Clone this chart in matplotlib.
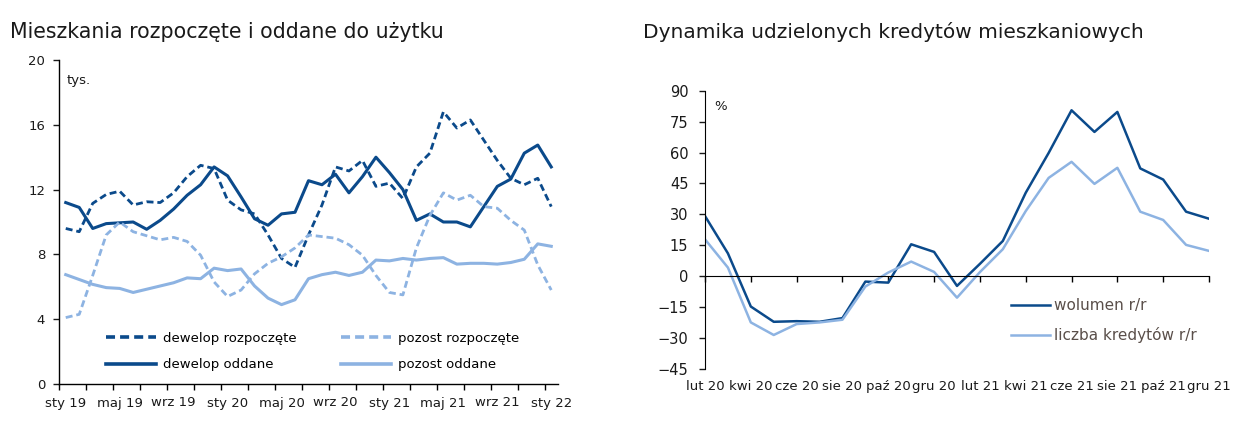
import matplotlib
matplotlib.use("Agg")
import matplotlib.pyplot as plt
import numpy as np

# Lewy wykres: tys. mieszkań, sty 19 - sty 22
miesiace_lewy = ["sty 19", "lut 19", "mar 19", "kwi 19", "maj 19", "cze 19", "lip 19", "sie 19",
                 "wrz 19", "paź 19", "lis 19", "gru 19", "sty 20", "lut 20", "mar 20", "kwi 20",
                 "maj 20", "cze 20", "lip 20", "sie 20", "wrz 20", "paź 20", "lis 20", "gru 20",
                 "sty 21", "lut 21", "mar 21", "kwi 21", "maj 21", "cze 21", "lip 21", "sie 21",
                 "wrz 21", "paź 21", "lis 21", "gru 21", "sty 22"]
dewelop_rozpoczete = [9.6, 9.4, 11.15, 11.7, 11.9, 11.05, 11.25, 11.2, 11.8, 12.8, 13.5, 13.3,
                      11.35, 10.75, 10.5, 9.2, 7.75, 7.2, 9.2, 11.05, 13.4, 13.15, 13.8, 12.2,
                      12.4, 11.45, 13.4, 14.25, 16.8, 15.8, 16.3, 15.05, 13.8, 12.7, 12.3, 12.7, 10.95]
dewelop_oddane = [11.2, 10.9, 9.6, 9.9, 9.95, 10.0, 9.55, 10.1, 10.8, 11.65, 12.3, 13.4,
                  12.85, 11.55, 10.2, 9.8, 10.5, 10.6, 12.55, 12.3, 12.95, 11.8, 12.8, 14.0,
                  13.05, 12.0, 10.1, 10.5, 10.0, 10.0, 9.7, 10.95, 12.2, 12.65, 14.25, 14.75, 13.4]
pozost_rozpoczete = [4.1, 4.3, 6.7, 9.2, 10.0, 9.4, 9.15, 8.9, 9.05, 8.8, 7.95, 6.3,
                     5.4, 5.8, 6.8, 7.45, 7.85, 8.4, 9.2, 9.1, 9.0, 8.6, 7.95, 6.7,
                     5.65, 5.5, 8.4, 10.4, 11.8, 11.35, 11.65, 10.95, 10.85, 10.1, 9.5, 7.35, 5.8]
pozost_oddane = [6.75, 6.45, 6.15, 5.95, 5.9, 5.65, 5.85, 6.05, 6.25, 6.55, 6.5, 7.15,
                 7.0, 7.1, 6.05, 5.3, 4.9, 5.2, 6.5, 6.75, 6.9, 6.7, 6.9, 7.65,
                 7.6, 7.75, 7.65, 7.75, 7.8, 7.4, 7.45, 7.45, 7.4, 7.5, 7.7, 8.65, 8.5]

# Prawy wykres: dynamika r/r w %, lut 20 - gru 21
miesiace_prawy = ["lut 20", "mar 20", "kwi 20", "maj 20", "cze 20", "lip 20", "sie 20", "wrz 20",
                  "paź 20", "lis 20", "gru 20", "sty 21", "lut 21", "mar 21", "kwi 21", "maj 21",
                  "cze 21", "lip 21", "sie 21", "wrz 21", "paź 21", "lis 21", "gru 21"]
wolumen = [29.2, 11.1, -14.7, -22.1, -21.8, -22.1, -20.3, -2.6, -3.1, 15.5, 11.8, -4.7,
           6.0, 17.1, 40.5, 59.8, 80.5, 70.0, 79.7, 52.3, 46.9, 31.3, 27.9]
liczba = [17.9, 4.2, -22.4, -28.5, -23.2, -22.4, -21.1, -5.0, 1.8, 7.1, 2.1, -10.4,
          2.0, 13.1, 31.6, 47.7, 55.5, 44.8, 52.6, 31.3, 27.3, 15.2, 12.3]

CIEMNY = "#0b4a8b"
JASNY = "#8db3e2"
TEKST = "#1a1a1a"

plt.rcParams["font.family"] = ["DejaVu Sans"]

fig = plt.figure(figsize=(12.48, 4.26), dpi=100)

# ---------- lewy wykres ----------
ax1 = fig.add_axes([59 / 1248, 42 / 426, 499 / 1248, 324 / 426])
x1 = np.arange(len(miesiace_lewy))
ax1.plot(x1, dewelop_rozpoczete, color=CIEMNY, lw=2.0, dashes=(2.5, 1.4), label="dewelop rozpoczęte")
ax1.plot(x1, dewelop_oddane, color=CIEMNY, lw=2.2, label="dewelop oddane")
ax1.plot(x1, pozost_rozpoczete, color=JASNY, lw=2.0, dashes=(2.5, 1.4), label="pozost rozpoczęte")
ax1.plot(x1, pozost_oddane, color=JASNY, lw=2.2, label="pozost oddane")

ax1.set_xlim(-0.5, len(miesiace_lewy) - 0.5)
ax1.set_ylim(0, 20)
ax1.set_yticks([0, 4, 8, 12, 16, 20])
ax1.set_xticks(x1[::4])
ax1.set_xticklabels(miesiace_lewy[::4])
ax1.set_xticks(np.arange(-0.5, len(miesiace_lewy) - 1, 2), minor=True)
ax1.tick_params(axis="x", which="major", length=0, pad=9, labelsize=9.5, colors=TEKST)
ax1.tick_params(axis="x", which="minor", length=4, width=1, direction="out")
ax1.tick_params(axis="y", length=4, width=1, pad=6, labelsize=9.5, colors=TEKST)
for s in ["top", "right"]:
    ax1.spines[s].set_visible(False)
for s in ["left", "bottom"]:
    ax1.spines[s].set_linewidth(1)
ax1.text(0.016, 0.938, "tys.", transform=ax1.transAxes, fontsize=9.5, va="center", color=TEKST)
leg1 = ax1.legend(ncol=2, loc="center", bbox_to_anchor=(0.508, 0.1), frameon=False, fontsize=9.5,
                  handlelength=3.8, handletextpad=0.5, columnspacing=3.4, labelspacing=1.0)
for h in leg1.get_lines():
    h.set_linewidth(2.6)
fig.text(10 / 1248, 1 - 32 / 426, "Mieszkania rozpoczęte i oddane do użytku", fontsize=14.8,
         va="center", ha="left", color=TEKST)

# ---------- prawy wykres ----------
ax2 = fig.add_axes([705 / 1248, 57 / 426, 504 / 1248, 278.3 / 426])
x2 = np.arange(len(miesiace_prawy))
ax2.plot(x2, wolumen, color=CIEMNY, lw=1.8, label="wolumen r/r")
ax2.plot(x2, liczba, color=JASNY, lw=1.8, label="liczba kredytów r/r")
ax2.set_xlim(0, len(miesiace_prawy) - 1)
ax2.set_ylim(-45, 90)
ax2.set_yticks(np.arange(-45, 91, 15))
ax2.tick_params(axis="y", length=4, width=1, pad=8, labelsize=10.5, colors=TEKST)
ax2.spines["bottom"].set_position(("data", 0))
for s in ["top", "right"]:
    ax2.spines[s].set_visible(False)
ax2.set_xticks(x2[::2])
ax2.tick_params(axis="x", length=4, width=1, direction="out", labelbottom=False)
sec = ax2.secondary_xaxis(0)
sec.set_xticks(x2[::2])
sec.set_xticklabels(miesiace_prawy[::2])
sec.tick_params(length=0, pad=8, labelsize=9.5, colors=TEKST)
sec.spines["bottom"].set_visible(False)
ax2.text(0.018, 0.942, "%", transform=ax2.transAxes, fontsize=9.5, va="center", color=TEKST)
ax2.legend(loc="upper left", bbox_to_anchor=(0.58, 0.305), frameon=False, fontsize=11,
           handlelength=2.55, handletextpad=0.25, labelspacing=0.95, labelcolor="#5a4f4a")
fig.text(643 / 1248, 1 - 32 / 426, "Dynamika udzielonych kredytów mieszkaniowych", fontsize=14.5,
         va="center", ha="left", color=TEKST)

fig.savefig("out.png", dpi=100)
